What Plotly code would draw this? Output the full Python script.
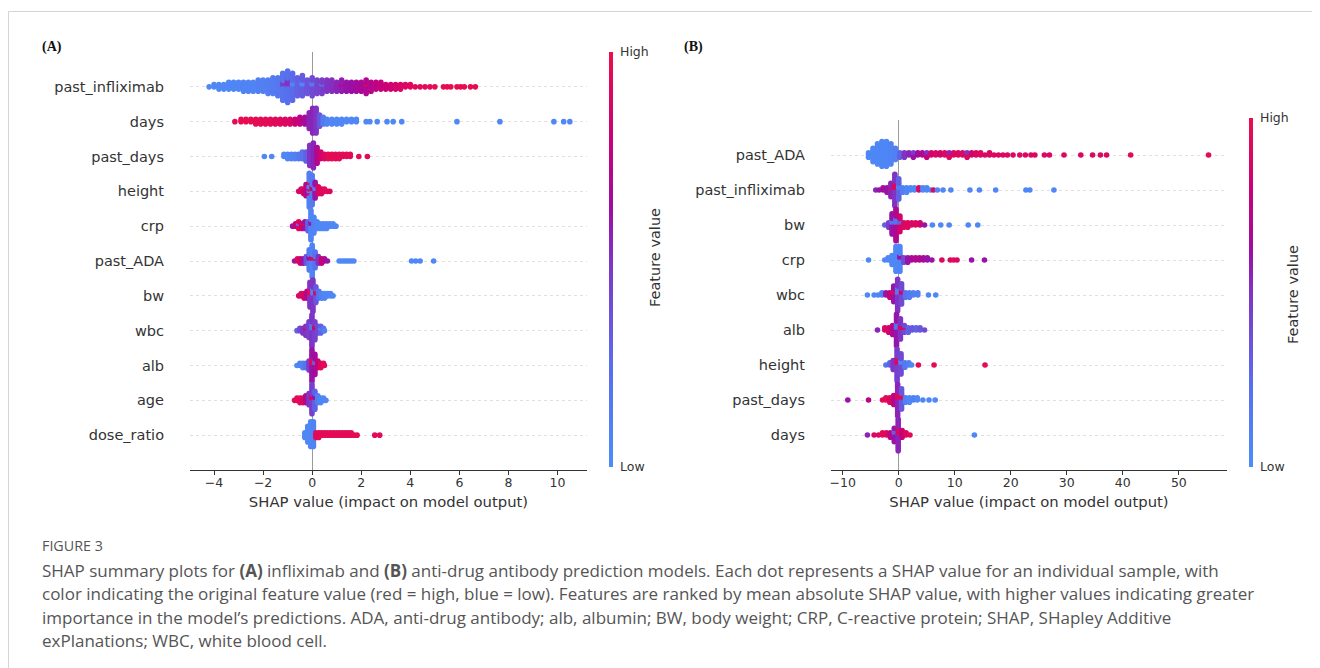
import plotly.graph_objects as go

# ---------------- data ----------------
# each entry: (SHAP value, number of stacked dots at that value, feature value 0=low..1=high, None=missing)
FEATURES_A = ["past_infliximab", "days", "past_days", "height", "crp", "past_ADA",
              "bw", "wbc", "alb", "age", "dose_ratio"]
FEATURES_B = ["past_ADA", "past_infliximab", "bw", "crp", "wbc", "alb",
              "height", "past_days", "days"]
TICKS_A = [-4, -2, 0, 2, 4, 6, 8, 10]
TICKS_B = [-10, 0, 10, 20, 30, 40, 50]

A_PAST_INFLIXIMAB = [
    (-4.2, 1, 0.05), (-4.0, 2, 0.05), (-3.8, 3, 0.05), (-3.6, 3, 0.05), (-3.4, 4, 0.05),
    (-3.2, 4, 0.06), (-3.0, 4, 0.06), (-2.8, 5, 0.07), (-2.6, 5, 0.07), (-2.4, 5, 0.08),
    (-2.2, 6, 0.1), (-2.0, 6, 0.1), (-1.8, 7, 0.12), (-1.6, 8, 0.14), (-1.4, 9, 0.16),
    (-1.2, 11, 0.2), (-1.0, 12, 0.22), (-0.8, 11, 0.26), (-0.6, 9, 0.3), (-0.4, 8, 0.33),
    (-0.2, 7, 0.36), (0.0, 7, 0.4), (0.2, 7, 0.43), (0.4, 6, 0.46), (0.6, 6, 0.5),
    (0.8, 6, 0.52), (1.0, 5, 0.55), (1.2, 5, 0.57), (1.4, 5, 0.6), (1.6, 5, 0.62),
    (1.8, 5, 0.65), (2.0, 5, 0.68), (2.2, 6, 0.7), (2.4, 5, 0.72), (2.6, 4, 0.75),
    (2.8, 4, 0.78), (3.0, 3, 0.8), (3.2, 3, 0.83), (3.4, 3, 0.85), (3.6, 3, 0.88),
    (3.8, 2, 0.9), (4.0, 2, 0.92), (4.2, 1, 0.95), (4.4, 1, 0.95), (4.6, 1, 0.95),
    (4.8, 1, 0.95), (5.0, 1, 0.97), (5.35, 1, 0.97), (5.5, 1, 0.97), (5.65, 1, 0.97),
    (5.9, 1, 0.97), (6.05, 1, 0.97), (6.2, 1, 0.97), (6.45, 1, 0.97), (6.65, 1, 0.97),
    (-1.2, 2, 0.45), (-1.0, 3, 0.5), (-0.8, 2, 0.05), (-0.4, 2, 0.05), (0.0, 2, 0.15),
    (0.4, 1, 0.2), (1.2, 1, 0.8), (2.2, 1, 0.9),
]
A_DAYS = [
    (-3.15, 1, 0.97), (-2.9, 2, 0.97), (-2.7, 2, 0.97), (-2.5, 2, 0.97), (-2.3, 3, 0.96),
    (-2.1, 3, 0.96), (-1.9, 3, 0.95), (-1.7, 3, 0.95), (-1.5, 3, 0.93), (-1.3, 3, 0.92),
    (-1.1, 3, 0.9), (-0.9, 3, 0.88), (-0.7, 3, 0.82), (-0.5, 4, 0.75), (-0.3, 4, 0.65),
    (-0.12, 8, 0.55), (0.02, 12, 0.55), (0.16, 12, 0.5), (0.3, 6, 0.35), (0.45, 4, 0.15),
    (0.6, 3, 0.08), (0.8, 3, 0.05), (1.0, 3, 0.05), (1.2, 3, 0.05), (1.4, 2, 0.05),
    (1.6, 2, 0.05), (1.8, 2, 0.05), (2.2, 1, 0.05), (2.35, 1, 0.05), (2.65, 1, 0.05),
    (3.05, 1, 0.05), (3.3, 1, 0.05), (3.65, 1, 0.05), (5.9, 1, 0.05), (7.65, 1, 0.05),
    (9.85, 1, 0.05), (10.25, 1, 0.05), (10.5, 1, 0.05),
]
A_PAST_DAYS = [
    (-1.95, 1, 0.05), (-1.65, 1, 0.05), (-1.15, 2, 0.05), (-1.0, 3, 0.05), (-0.85, 3, 0.07),
    (-0.7, 3, 0.1), (-0.55, 3, 0.15), (-0.4, 4, 0.2), (-0.25, 5, 0.3), (-0.1, 10, 0.5),
    (0.05, 12, 0.55), (0.2, 8, 0.7), (0.35, 4, 0.85), (0.5, 3, 0.9), (0.65, 3, 0.95),
    (0.8, 3, 0.95), (0.95, 3, 0.95), (1.1, 3, 0.95), (1.25, 2, 0.95), (1.4, 2, 0.95),
    (1.55, 2, 0.95), (1.9, 1, 0.95), (2.25, 1, 0.95),
]
A_HEIGHT = [
    (-0.55, 1, 0.9), (-0.45, 2, 0.9), (-0.35, 3, 0.85), (-0.25, 4, 0.7), (-0.12, 11, 0.1),
    (0.0, 12, 0.15), (0.12, 6, 0.6), (0.25, 4, 0.9), (0.38, 3, 0.9), (0.5, 2, 0.95),
    (0.62, 1, 0.95), (0.72, 1, 0.9),
    (-0.12, 3, 0.9), (0.0, 2, 0.8), (0.12, 2, 0.1), (-0.25, 2, None), (-0.12, 2, None),
]
A_CRP = [
    (-0.8, 1, 0.6), (-0.68, 2, 0.8), (-0.55, 3, 0.9), (-0.42, 3, 0.85), (-0.3, 3, 0.6),
    (-0.17, 5, 0.3), (-0.05, 12, 0.08), (0.07, 8, 0.08), (0.2, 4, 0.06), (0.33, 3, 0.05),
    (0.46, 3, 0.05), (0.59, 3, 0.05), (0.72, 2, 0.05), (0.85, 2, 0.05), (0.97, 1, 0.05),
    (-0.55, 1, 0.2), (-0.3, 1, 0.95), (-0.05, 2, 0.6),
]
A_PAST_ADA = [
    (-0.72, 1, 0.6), (-0.6, 2, 0.9), (-0.48, 3, 0.85), (-0.36, 3, 0.6), (-0.24, 4, 0.35),
    (-0.12, 8, 0.15), (0.0, 13, 0.08), (0.12, 7, 0.2), (0.25, 4, 0.5), (0.38, 3, 0.8),
    (0.5, 2, 0.7), (0.62, 1, 0.6),
    (1.1, 1, 0.05), (1.2, 1, 0.05), (1.3, 1, 0.05), (1.4, 1, 0.05), (1.5, 1, 0.05),
    (1.6, 1, 0.05), (1.7, 1, 0.05), (4.05, 1, 0.05), (4.22, 1, 0.05), (4.4, 1, 0.05),
    (4.95, 1, 0.05),
    (0.0, 2, 0.9), (-0.12, 2, 0.6), (0.12, 1, 0.9),
]
A_BW = [
    (-0.55, 1, 0.9), (-0.45, 2, 0.9), (-0.33, 3, 0.85), (-0.21, 4, 0.7), (-0.09, 9, 0.5),
    (0.03, 12, 0.5), (0.15, 6, 0.35), (0.27, 4, 0.2), (0.39, 3, 0.1), (0.51, 3, 0.05),
    (0.63, 2, 0.05), (0.75, 2, 0.05), (0.85, 1, 0.05),
    (-0.09, 3, 0.95), (0.03, 3, 0.1), (0.15, 2, 0.9),
]
A_WBC = [
    (-0.62, 1, 0.3), (-0.5, 2, 0.4), (-0.38, 3, 0.5), (-0.26, 4, 0.5), (-0.13, 8, 0.45),
    (-0.01, 12, 0.5), (0.11, 7, 0.45), (0.23, 4, 0.4), (0.35, 3, 0.3), (0.46, 2, 0.2),
    (0.5, 1, 0.1),
    (-0.26, 1, 0.9), (-0.01, 3, 0.2), (0.11, 2, 0.85), (0.35, 1, 0.05),
]
A_ALB = [
    (-0.62, 1, 0.05), (-0.5, 2, 0.1), (-0.38, 3, 0.1), (-0.26, 3, 0.2), (-0.13, 5, 0.45),
    (-0.01, 12, 0.6), (0.11, 8, 0.65), (0.23, 4, 0.8), (0.35, 3, 0.9), (0.46, 2, 0.95),
    (0.5, 1, 0.95),
    (-0.01, 3, 0.95), (0.11, 2, 0.3),
]
A_AGE = [
    (-0.72, 1, 0.95), (-0.62, 2, 0.95), (-0.5, 3, 0.95), (-0.38, 3, 0.9), (-0.26, 4, 0.7),
    (-0.13, 6, 0.5), (-0.01, 12, 0.45), (0.11, 7, 0.3), (0.23, 4, 0.1), (0.35, 3, 0.05),
    (0.46, 2, 0.05), (0.56, 1, 0.05),
    (-0.01, 2, 0.9), (0.11, 2, 0.6),
]
A_DOSE_RATIO = [
    (-0.3, 3, 0.05), (-0.18, 8, 0.05), (-0.06, 12, 0.05), (0.05, 12, 0.08), (0.15, 3, 0.95),
    (0.27, 3, 0.95), (0.39, 2, 0.95), (0.51, 2, 0.95), (0.63, 2, 0.95), (0.75, 2, 0.95),
    (0.87, 2, 0.95), (0.99, 2, 0.95), (1.11, 2, 0.95), (1.23, 2, 0.95), (1.35, 2, 0.95),
    (1.47, 2, 0.95), (1.59, 2, 0.95), (1.71, 1, 0.95), (1.83, 1, 0.95), (2.55, 1, 0.95),
    (2.75, 1, 0.95),
]

B_PAST_ADA = [
    (-5.4, 3, 0.05), (-4.6, 7, 0.05), (-3.8, 10, 0.05), (-3.0, 12, 0.06), (-2.2, 12, 0.06),
    (-1.4, 10, 0.08), (-0.6, 6, 0.1), (0.2, 3, 0.3), (1.0, 3, 0.5), (1.8, 2, 0.55),
    (2.6, 2, 0.6), (3.4, 2, 0.65), (4.2, 2, 0.7), (5.0, 2, 0.8), (5.8, 2, 0.85),
    (6.6, 2, 0.9), (7.4, 2, 0.85), (8.2, 2, 0.9), (9.0, 2, 0.9), (9.8, 2, 0.9),
    (10.6, 2, 0.9), (11.4, 2, 0.9), (12.2, 2, 0.9), (13.0, 2, 0.85), (13.8, 2, 0.9),
    (14.6, 2, 0.9), (15.4, 1, 0.9), (16.2, 2, 0.9), (17.0, 1, 0.9), (17.8, 1, 0.9),
    (18.6, 1, 0.9), (19.4, 1, 0.9), (20.4, 1, 0.9), (21.6, 1, 0.9), (22.6, 1, 0.9),
    (23.6, 1, 0.9), (24.3, 1, 0.9), (26.0, 1, 0.9), (26.9, 1, 0.9), (29.5, 1, 0.9),
    (32.5, 1, 0.9), (34.6, 1, 0.9), (36.0, 1, 0.9), (37.1, 1, 0.9), (41.4, 1, 0.95),
    (55.3, 1, 0.95),
    (2.6, 1, 0.45), (5.0, 1, 0.5), (9.0, 1, 0.55), (12.2, 1, 0.5),
]
B_PAST_INFLIXIMAB = [
    (-4.1, 1, 0.55), (-3.5, 1, 0.6), (-2.8, 2, 0.65), (-2.1, 3, 0.6), (-1.4, 6, 0.55),
    (-0.7, 12, 0.5), (0.0, 8, 0.3), (0.7, 3, 0.1), (1.4, 3, 0.05), (2.1, 2, 0.05),
    (2.8, 2, 0.05), (3.6, 2, 0.9), (4.3, 2, 0.05), (5.0, 2, 0.05), (5.7, 1, 0.05),
    (6.2, 1, 0.9), (6.9, 1, 0.05), (7.9, 1, 0.05), (9.3, 1, 0.05), (12.7, 1, 0.05),
    (14.4, 1, 0.05), (17.3, 1, 0.05), (22.7, 1, 0.05), (23.4, 1, 0.05), (27.7, 1, 0.05),
    (-0.7, 3, 0.9), (-1.4, 1, 0.9), (0.0, 2, 0.1),
]
B_BW = [
    (-2.5, 1, 0.3), (-1.8, 3, 0.45), (-1.2, 8, 0.6), (-0.5, 12, 0.7), (0.2, 6, 0.85),
    (0.9, 3, 0.9), (1.6, 3, 0.9), (2.3, 2, 0.9), (3.0, 2, 0.9), (3.8, 2, 0.85),
    (4.6, 1, 0.6), (6.0, 1, 0.05), (7.5, 1, 0.05), (9.0, 1, 0.05), (12.4, 1, 0.05),
    (14.1, 1, 0.05),
    (-0.5, 3, 0.2), (-1.2, 2, 0.2), (0.2, 2, 0.3),
]
B_CRP = [
    (-5.4, 1, 0.05), (-2.5, 1, 0.05), (-1.9, 2, 0.05), (-1.2, 5, 0.05), (-0.5, 12, 0.05),
    (0.2, 10, 0.06), (0.9, 3, 0.4), (1.6, 3, 0.6), (2.3, 2, 0.65), (3.0, 2, 0.7),
    (3.7, 2, 0.7), (4.4, 2, 0.65), (5.1, 2, 0.6), (5.9, 1, 0.6), (7.7, 1, 0.9),
    (9.2, 1, 0.9), (9.8, 1, 0.95), (10.4, 1, 0.9), (13.0, 1, 0.6), (15.3, 1, 0.6),
    (0.2, 2, 0.6),
]
B_WBC = [
    (-5.6, 1, 0.05), (-4.4, 1, 0.05), (-3.7, 1, 0.05), (-3.0, 2, 0.1), (-2.3, 2, 0.6),
    (-1.6, 3, 0.8), (-0.9, 6, 0.6), (-0.2, 12, 0.5), (0.5, 8, 0.4), (1.2, 3, 0.2),
    (1.9, 3, 0.15), (2.6, 2, 0.1), (3.4, 2, 0.1), (5.3, 1, 0.05), (6.6, 1, 0.05),
    (-0.2, 3, 0.15), (-0.9, 2, 0.9), (0.5, 2, 0.85),
]
B_ALB = [
    (-3.8, 1, 0.55), (-2.5, 2, 0.9), (-1.8, 3, 0.85), (-1.1, 5, 0.7), (-0.4, 12, 0.6),
    (0.3, 8, 0.5), (1.0, 3, 0.4), (1.7, 3, 0.3), (2.4, 2, 0.35), (3.1, 2, 0.3),
    (3.8, 2, 0.35), (4.6, 1, 0.4),
    (-0.4, 3, 0.2), (0.3, 2, 0.9), (1.0, 1, 0.9),
]
B_HEIGHT = [
    (-2.3, 1, 0.2), (-1.6, 2, 0.3), (-1.0, 5, 0.5), (-0.3, 12, 0.45), (0.4, 8, 0.4),
    (1.1, 3, 0.15), (1.8, 2, 0.1), (2.3, 1, 0.05), (3.5, 1, 0.95), (6.3, 1, 0.95),
    (15.4, 1, 0.95),
    (-0.3, 3, 0.9), (0.4, 2, 0.05),
]
B_PAST_DAYS = [
    (-9.1, 1, 0.6), (-5.4, 1, 0.75), (-2.9, 1, 0.95), (-2.3, 2, 0.95), (-1.6, 3, 0.9),
    (-0.9, 5, 0.75), (-0.2, 12, 0.55), (0.5, 8, 0.35), (1.2, 3, 0.1), (1.9, 3, 0.05),
    (2.6, 2, 0.1), (3.3, 2, 0.05), (4.3, 1, 0.05), (5.4, 1, 0.05), (6.5, 1, 0.05),
    (-0.2, 3, 0.9), (0.5, 2, 0.9),
]
B_DAYS = [
    (-5.6, 1, 0.55), (-4.4, 1, 0.9), (-3.6, 1, 0.9), (-2.9, 2, 0.95), (-2.2, 2, 0.9),
    (-1.5, 3, 0.75), (-0.8, 5, 0.6), (-0.1, 12, 0.55), (0.6, 4, 0.8), (1.3, 2, 0.9),
    (2.0, 1, 0.95), (13.5, 1, 0.05),
    (-0.1, 3, 0.9), (-0.8, 2, 0.3),
]

DATA_A = [A_PAST_INFLIXIMAB, A_DAYS, A_PAST_DAYS, A_HEIGHT, A_CRP, A_PAST_ADA,
          A_BW, A_WBC, A_ALB, A_AGE, A_DOSE_RATIO]
DATA_B = [B_PAST_ADA, B_PAST_INFLIXIMAB, B_BW, B_CRP, B_WBC, B_ALB,
          B_HEIGHT, B_PAST_DAYS, B_DAYS]

# ---------------- layout constants ----------------
# the page adds an 8 px body margin, so the figure is 8 px smaller and all
# reference pixel positions are shifted by 8 px
OFF = 8
W, H = 1320 - OFF, 668 - OFF
ROW_PX = 34.9
STEP = 2.25 / ROW_PX         # vertical spacing of stacked dots, in row units
DOT = 5.6


def px(x):
    return (x - OFF) / W


def py(y):
    return 1 - (y - OFF) / H


COLORSCALE = [
    [0.0, "rgb(76,142,248)"], [0.25, "rgb(90,108,236)"], [0.5, "rgb(128,52,196)"],
    [0.62, "rgb(156,14,164)"], [0.8, "rgb(202,0,118)"], [1.0, "rgb(236,14,76)"],
]


def swarm(entries, row):
    cols = {}
    for x, n, c in entries:
        cols.setdefault(x, []).append([c] * n)
    xs, ys, cs, gx, gy = [], [], [], [], []
    for x, groups in cols.items():
        seq = []
        idx = 0
        while any(groups):
            g = groups[idx % len(groups)]
            if g:
                seq.append(g.pop())
            idx += 1
        for k, c in enumerate(seq):
            m = (k + 1) // 2
            off = (m if k % 2 else -m) * STEP
            if c is None:
                gx.append(x)
                gy.append(row + off)
            else:
                xs.append(x)
                ys.append(row + off)
                cs.append(c)
    return xs, ys, cs, gx, gy


def panel(data, features):
    n = len(features)
    X, Y, C, GX, GY = [], [], [], [], []
    for i, entries in enumerate(data):
        row = n - 1 - i
        xs, ys, cs, gx, gy = swarm(entries, row)
        X += xs; Y += ys; C += cs; GX += gx; GY += gy
    return X, Y, C, GX, GY


fig = go.Figure()
FONT = "DejaVu Sans"
TXT = "#333333"

for key, data, feats, cbx, cbtop, cbbot in [
        ("", DATA_A, FEATURES_A, 609, 52, 467),
        ("2", DATA_B, FEATURES_B, 1249, 118, 467)]:
    X, Y, C, GX, GY = panel(data, feats)
    if GX:
        fig.add_trace(go.Scatter(x=GX, y=GY, mode="markers", xaxis="x" + key, yaxis="y" + key,
                                 marker=dict(size=DOT, color="#808080", line=dict(width=0)),
                                 showlegend=False, hoverinfo="skip"))
    fig.add_trace(go.Scatter(
        x=X, y=Y, mode="markers", xaxis="x" + key, yaxis="y" + key, showlegend=False,
        hoverinfo="skip",
        marker=dict(size=DOT, color=C, colorscale=COLORSCALE, cmin=0, cmax=1,
                    line=dict(width=0), showscale=True,
                    colorbar=dict(x=px(cbx), xanchor="left", xpad=0, ypad=0,
                                  thickness=4, lenmode="pixels", len=cbbot - cbtop,
                                  y=py((cbtop + cbbot) / 2), yanchor="middle",
                                  tickvals=[0, 1], ticktext=["Low", "High"],
                                  ticks="outside", ticklen=5, tickcolor="rgba(0,0,0,0)",
                                  outlinewidth=0,
                                  tickfont=dict(family=FONT, size=12.5, color=TXT)))))


def xaxis(dom, rng, ticks):
    return dict(domain=[px(dom[0]), px(dom[1])], range=rng, showline=True, linecolor=TXT,
                linewidth=1, ticks="outside", ticklen=4, tickcolor=TXT, tickvals=ticks,
                ticklabelstandoff=-3,
                tickfont=dict(family=FONT, size=12.5, color=TXT), showgrid=False,
                zeroline=True, zerolinecolor="#9a9a9a", zerolinewidth=1.4,
                title=dict(text="SHAP value (impact on model output)", standoff=7,
                           font=dict(family=FONT, size=14.8, color=TXT)))


def yaxis(top, bottom, feats):
    n = len(feats)
    return dict(domain=[py(bottom), py(top)], range=[-1, n],
                tickvals=list(range(n)), ticktext=feats[::-1], showgrid=True,
                gridcolor="#e0e0e0", gridwidth=1, griddash="dot", zeroline=False,
                showline=False, ticks="", ticklabelstandoff=25,
                tickfont=dict(family=FONT, size=14.5, color=TXT))


fig.update_layout(
    width=W, height=H, margin=dict(l=0, r=0, t=0, b=0),
    paper_bgcolor="white", plot_bgcolor="white",
    xaxis=dict(xaxis([190, 587], [-4.98, 11.2], TICKS_A), anchor="y"),
    yaxis=dict(yaxis(52, 470, FEATURES_A), anchor="x"),
    xaxis2=dict(xaxis([831, 1227], [-12.1, 58.6], TICKS_B), anchor="y2"),
    yaxis2=dict(yaxis(120, 470, FEATURES_B), anchor="x2"),
)

shapes = [
    dict(type="line", xref="paper", yref="paper", x0=px(8.5), x1=1, y0=py(11.5), y1=py(11.5),
         line=dict(color="#d4d4d4", width=1)),
    dict(type="line", xref="paper", yref="paper", x0=px(8.5), x1=px(8.5), y0=0, y1=py(11.5),
         line=dict(color="#d4d4d4", width=1)),
]
fig.update_layout(shapes=shapes)


def ann(text, x, y, size, color=TXT, family=FONT, angle=0, xanchor="left"):
    fig.add_annotation(text=text, x=px(x), y=py(y), xref="paper", yref="paper",
                       showarrow=False, xanchor=xanchor, yanchor="middle", textangle=angle,
                       font=dict(family=family, size=size, color=color))


ann("<b>(A)</b>", 40, 47, 14, "#111", "Liberation Serif")
ann("<b>(B)</b>", 682, 47, 14, "#111", "Liberation Serif")
ann("Feature value", 655, 258, 14.5, angle=-90, xanchor="center")
ann("Feature value", 1293, 295, 14.5, angle=-90, xanchor="center")

CAP = "#555555"
CFONT = "Open Sans"
ann("FIGURE 3", 40, 545, 14.3, CAP, CFONT)
CAPTION = [
    "SHAP summary plots for <b>(A)</b> infliximab and <b>(B)</b> anti-drug antibody prediction models. "
    "Each dot represents a SHAP value for an individual sample, with",
    "color indicating the original feature value (red = high, blue = low). Features are ranked by "
    "mean absolute SHAP value, with higher values indicating greater",
    "importance in the model’s predictions. ADA, anti-drug antibody; alb, albumin; BW, body weight; "
    "CRP, C-reactive protein; SHAP, SHapley Additive",
    "exPlanations; WBC, white blood cell.",
]
for i, line in enumerate(CAPTION):
    ann(line, 40, 570 + i * 23.5, 17, CAP, CFONT)

fig.write_html("out.html")
